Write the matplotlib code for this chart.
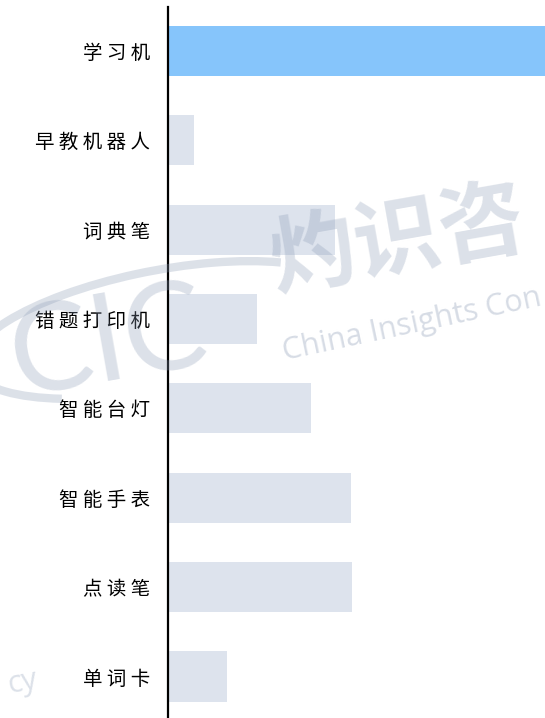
import matplotlib.pyplot as plt
from matplotlib.patches import Arc

plt.rcParams['font.family'] = ['Noto Sans CJK SC', 'DejaVu Sans']

categories = ['学习机', '早教机器人', '词典笔', '错题打印机', '智能台灯', '智能手表', '点读笔', '单词卡']
values = [420, 26, 167, 89, 143, 183, 184, 59]
colors = ['#86C5FB'] + ['#DDE3ED'] * 7

fig = plt.figure(figsize=(5.45, 7.18), dpi=100)
ax = fig.add_axes([168 / 545, 0, 377 / 545, 711 / 718])

pos = list(range(len(categories)))
ax.barh(pos, values, height=0.56, color=colors, zorder=2)
ax.set_xlim(0, 377)
ax.set_ylim(7 + 41.5 / 89.4, -44 / 89.4)

ax.set_yticks(pos)
ax.set_yticklabels([' '.join(c) for c in categories], fontsize=14)
ax.tick_params(axis='y', length=0, pad=13)
ax.set_xticks([])
for s in ['top', 'right', 'bottom']:
    ax.spines[s].set_visible(False)
ax.spines['left'].set_linewidth(1.6)
ax.spines['left'].set_color('black')
ax.spines['left'].set_zorder(3)

# faint watermark (only the part visible in the original)
wm = '#8C9CB6'
fig.text(398 / 545, 1 - 242 / 718, '灼识咨', fontsize=62, fontweight='bold', color=wm,
         alpha=0.3, rotation=10, ha='center', va='center', zorder=10)
fig.text(412 / 545, 1 - 325 / 718, 'China Insights Con', fontsize=22, family='Open Sans',
         color=wm, alpha=0.35, rotation=12, ha='center', va='center', zorder=10)
fig.text(108 / 545, 1 - 345 / 718, 'CIC', fontsize=88, family='Lato', color=wm,
         alpha=0.3, rotation=10, ha='center', va='center', zorder=10)
fig.text(22 / 545, 1 - 683 / 718, 'cy', fontsize=22, family='Open Sans', color=wm,
         alpha=0.3, rotation=10, ha='center', va='center', zorder=10)
swoosh = Arc((160 / 545, 1 - 330 / 718), 380 / 545, 120 / 718, angle=8,
             theta1=15, theta2=200, transform=fig.transFigure, color=wm,
             alpha=0.3, linewidth=6, zorder=10)
fig.add_artist(swoosh)

fig.savefig('out.png', dpi=100)
